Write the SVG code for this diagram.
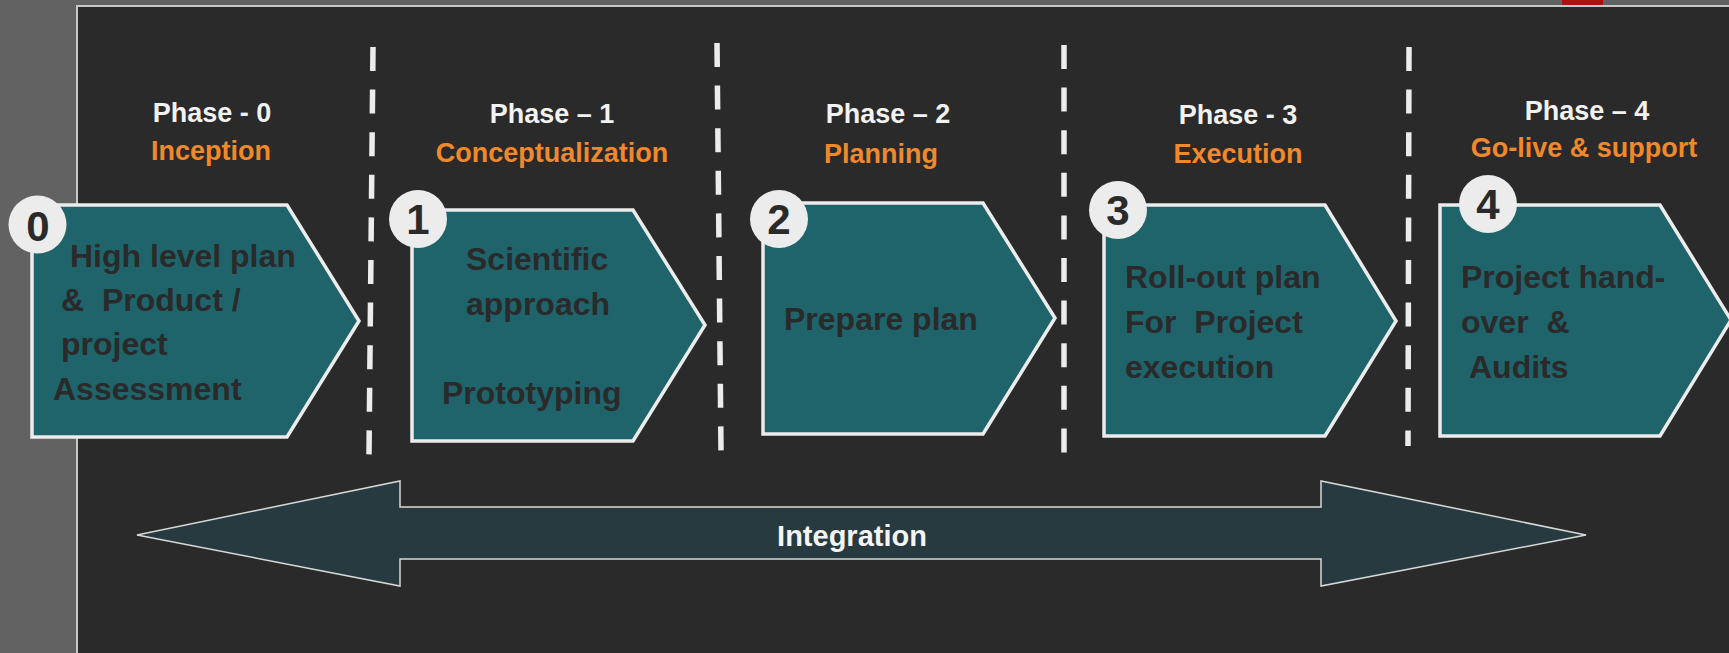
<svg xmlns="http://www.w3.org/2000/svg" width="1729" height="653" viewBox="0 0 1729 653">
<style>
.ph{font-family:"Liberation Sans",Arial,sans-serif;font-weight:bold;font-size:27px;fill:#f2f2f2;text-anchor:middle}
.st{font-family:"Liberation Sans",Arial,sans-serif;font-weight:bold;font-size:27px;fill:#f0892c;text-anchor:middle}
.bd{font-family:"Liberation Sans",Arial,sans-serif;font-weight:bold;font-size:32px;fill:#2a2a2a}
.num{font-family:"Liberation Sans",Arial,sans-serif;font-weight:bold;font-size:42px;fill:#2a2a2a;text-anchor:middle}
.box{fill:#1f646b;stroke:#ececec;stroke-width:3.5;stroke-linejoin:miter}
.circ{fill:#ececec}
.dash{stroke:#ececec;stroke-width:5.5;stroke-dasharray:24 18.6;fill:none}
</style>
<rect x="0" y="0" width="1729" height="653" fill="#626262"/>
<rect x="77" y="6" width="1660" height="660" fill="#2a2a2a" stroke="#c8c8c8" stroke-width="2"/>
<rect x="1562" y="0" width="41" height="5" fill="#aa1111"/>
<g id="connectors">
<line class="dash" x1="373" y1="47" x2="369" y2="455"/>
<line class="dash" x1="717" y1="43" x2="721" y2="451"/>
<line class="dash" x1="1064" y1="45" x2="1064" y2="453"/>
<line class="dash" x1="1409" y1="47" x2="1408" y2="446"/>
</g>
<g id="integration">
<polygon points="137,535 400,481 400,507 1321,507 1321,481 1586,535 1321,586 1321,559 400,559 400,586" fill="#263a3f" stroke="#d8d8d8" stroke-width="1.5"/>
<text x="852" y="546" font-family="Liberation Sans, Arial, sans-serif" font-weight="bold" font-size="29" fill="#f4f4f4" text-anchor="middle">Integration</text>
</g>
<g id="phase0">
<text class="ph" x="212" y="122">Phase - 0</text>
<text class="st" x="211" y="160">Inception</text>
<polygon class="box" points="32,205 287,205 359,321 287,437 32,437"/>
<circle class="circ" cx="37.5" cy="224.5" r="29"/>
<text class="num" x="38" y="241">0</text>
<text class="bd" xml:space="preserve"><tspan x="70" y="267">High level plan</tspan><tspan x="61" y="311">&amp;  Product /</tspan><tspan x="61" y="355">project</tspan><tspan x="53" y="400">Assessment</tspan></text>
</g>
<g id="phase1">
<text class="ph" x="552" y="123">Phase – 1</text>
<text class="st" x="552" y="162">Conceptualization</text>
<polygon class="box" points="412,210 633,210 705,325 633,441 412,441"/>
<circle class="circ" cx="418" cy="219" r="29"/>
<text class="num" x="418" y="234">1</text>
<text class="bd"><tspan x="466" y="270">Scientific</tspan><tspan x="466" y="315">approach</tspan><tspan x="442" y="404">Prototyping</tspan></text>
</g>
<g id="phase2">
<text class="ph" x="888" y="123">Phase – 2</text>
<text class="st" x="881" y="163">Planning</text>
<polygon class="box" points="763,203 983,203 1055,318 983,434 763,434"/>
<circle class="circ" cx="779" cy="219" r="29"/>
<text class="num" x="779" y="234">2</text>
<text class="bd" x="784" y="330">Prepare plan</text>
</g>
<g id="phase3">
<text class="ph" x="1238" y="124">Phase - 3</text>
<text class="st" x="1238" y="163">Execution</text>
<polygon class="box" points="1104,205 1325,205 1396,321 1325,436 1104,436"/>
<circle class="circ" cx="1118" cy="210" r="29"/>
<text class="num" x="1118" y="225">3</text>
<text class="bd" xml:space="preserve"><tspan x="1125" y="288">Roll-out plan</tspan><tspan x="1125" y="333">For  Project</tspan><tspan x="1125" y="378">execution</tspan></text>
</g>
<g id="phase4">
<text class="ph" x="1587" y="120">Phase – 4</text>
<text class="st" x="1584" y="157">Go-live &amp; support</text>
<polygon class="box" points="1440,205 1660,205 1731,320 1660,436 1440,436"/>
<circle class="circ" cx="1488" cy="204" r="29"/>
<text class="num" x="1488" y="219">4</text>
<text class="bd" xml:space="preserve"><tspan x="1461" y="288">Project hand-</tspan><tspan x="1461" y="333">over  &amp;</tspan><tspan x="1469" y="378">Audits</tspan></text>
</g>
</svg>
